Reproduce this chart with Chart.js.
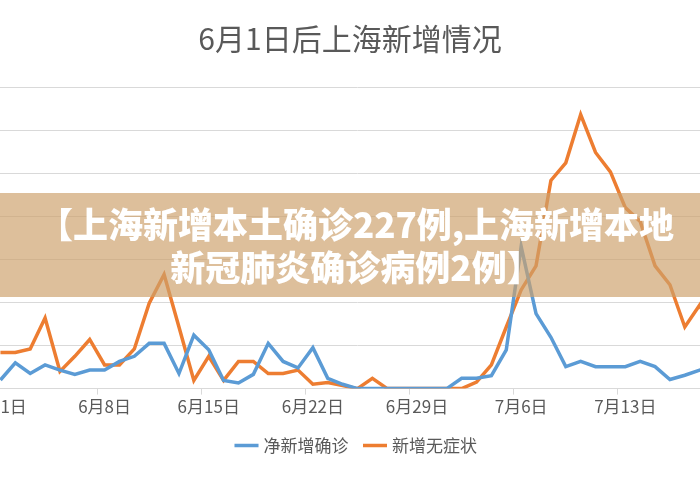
<!DOCTYPE html>
<html>
<head>
<meta charset="utf-8">
<script src="https://cdn.jsdelivr.net/npm/chart.js@4"></script>
<style>
  html, body { margin: 0; padding: 0; background: #fff; }
  #wrap { position: relative; width: 700px; height: 490px; overflow: hidden; font-family: "Noto Sans CJK SC", "Noto Sans", sans-serif; }
  #chart-box { position: absolute; left: -40px; top: 0; width: 780px; height: 490px; }
  #title { position: absolute; left: 0; width: 700px; top: 17px; text-align: center; font-size: 30px; line-height: 40px; color: #595959; }
  #banner { position: absolute; left: 0; top: 193px; width: 700px; height: 104px; background: rgba(205,160,108,0.68); color: #fff; font-weight: 900; font-size: 35px; text-align: center; line-height: 43px; padding-top: 8px; padding-left: 12px; box-sizing: border-box; white-space: nowrap; }
</style>
</head>
<body>
<div id="wrap">
  <div id="chart-box"><canvas id="c"></canvas></div>
  <div id="title">6月1日后上海新增情况</div>
  <div id="banner">【上海新增本土确诊227例,上海新增本地<br>新冠肺炎确诊病例2例】</div>
</div>
<script>
// ── DATA ─────────────────────────────────────────────────────────
const days = [];
for (let d = 1; d <= 30; d++) days.push(`6月${d}日`);
for (let d = 1; d <= 19; d++) days.push(`7月${d}日`);

const netConfirmed = [
  2, 6, 3.5, 5.5, 4.3, 3.3, 4.3, 4.3, 6.3, 7.5, 10.5, 10.5, 3.5,
  12.4, 9, 1.9, 1.3, 3.3, 10.5, 6.3, 4.8, 9.5, 2.4, 1, 0,
  0, 0, 0, 0, 0, 0, 2.4, 2.4, 3, 9, 33, 17.4, 11.9, 5.1, 6.3,
  5.1, 5.1, 5.1, 6.3, 5.1, 2.1, 3.1, 4.3, 5.5
];
const asymptomatic = [
  8.4, 8.4, 9.2, 16.4, 4, 7.5, 11.4, 5.5, 5.5, 9.2, 19.8, 26.5, 14.3,
  1.9, 7.5, 1.9, 6.3, 6.3, 3.5, 3.5, 4.3, 1, 1.4, 0.7, 0,
  2.4, 0, 0, 0, 0, 0, 0, 1.5, 5.5, 14.3, 22.9, 28.5, 48.3, 52.4, 63.6,
  54.8, 50.3, 42, 38.8, 28.5, 24.1, 14.3, 19.4, 12
];

// ── CHART ────────────────────────────────────────────────────────
const font = { size: 17, family: '"Noto Sans CJK SC", sans-serif' };

new Chart(document.getElementById('c'), {
  type: 'line',
  data: {
    labels: days,
    datasets: [
      { label: '净新增确诊', data: netConfirmed, borderColor: '#5b9bd5', backgroundColor: '#5b9bd5', borderWidth: 3.5, pointRadius: 0, tension: 0 },
      { label: '新增无症状', data: asymptomatic, borderColor: '#ed7d31', backgroundColor: '#ed7d31', borderWidth: 3.5, pointRadius: 0, tension: 0 },
    ],
  },
  options: {
    responsive: true,
    maintainAspectRatio: false,
    animation: false,
    layout: { padding: { left: 33, right: 18, top: 87, bottom: 26 } },
    plugins: {
      tooltip: { enabled: false },
      legend: {
        position: 'bottom',
        labels: {
          usePointStyle: true, pointStyle: 'line', boxWidth: 50, padding: 18,
          color: '#595959', font,
        },
      },
    },
    scales: {
      x: {
        offset: true,
        grid: {
          offset: true, drawOnChartArea: false, tickLength: 6,
          color: ctx => (ctx.index % 7 === 0 ? '#d9d9d9' : 'rgba(0,0,0,0)'),
        },
        border: { color: '#d9d9d9' },
        ticks: {
          autoSkip: false, maxRotation: 0, color: '#595959', padding: 2, font,
          callback: (v, i) => (i % 7 === 0 ? days[i] : ''),
        },
      },
      y: {
        min: 0, max: 70,
        ticks: { display: false, stepSize: 10 },
        grid: { color: '#d9d9d9', drawTicks: false },
        border: { display: false },
      },
    },
  },
});
</script>
</body>
</html>
